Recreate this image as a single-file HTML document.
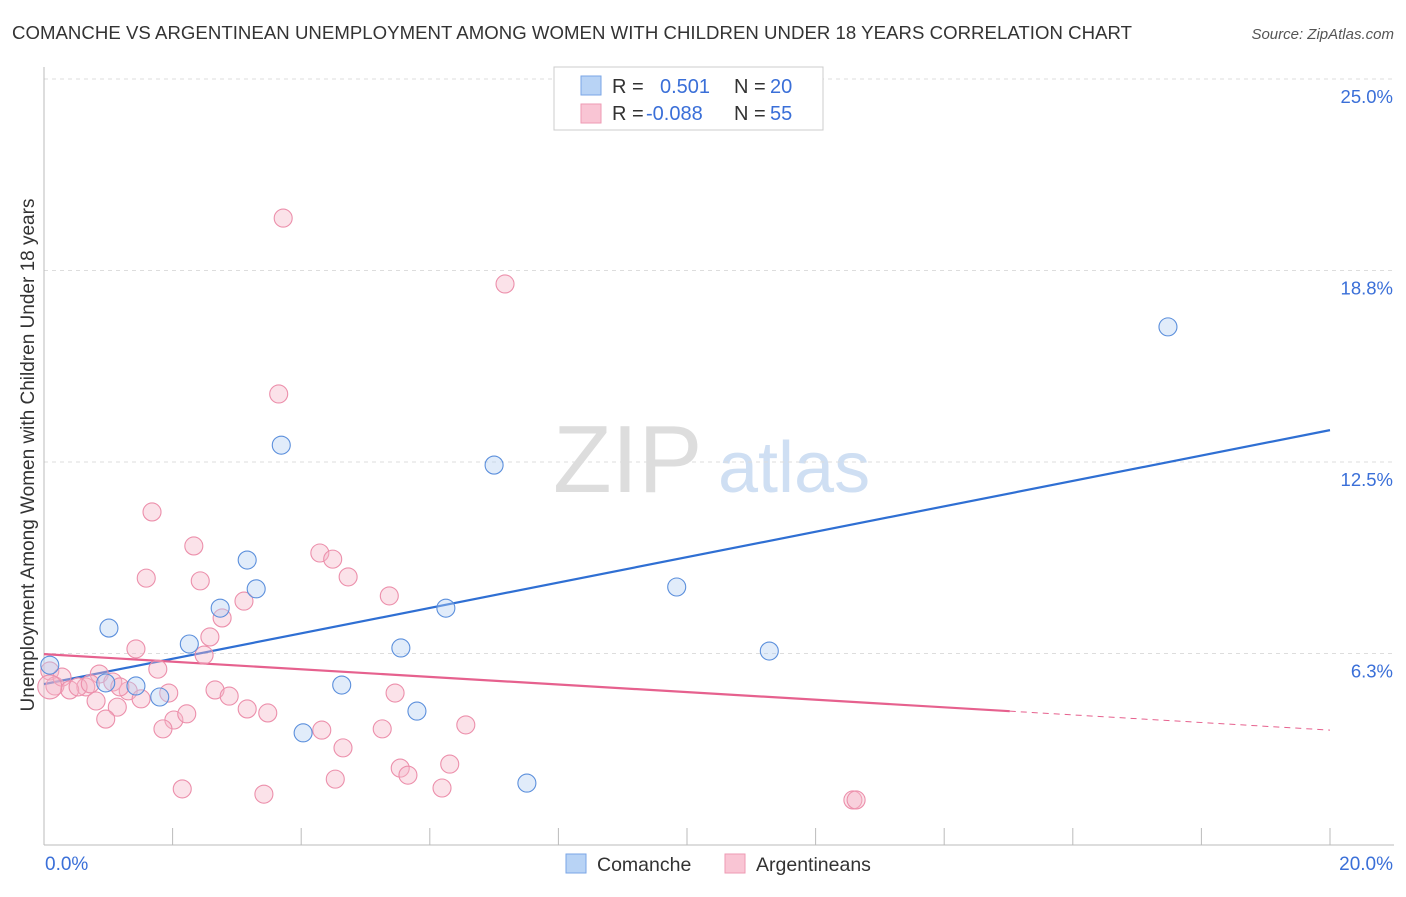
<!DOCTYPE html>
<html><head><meta charset="utf-8"><style>
body{margin:0;background:#fff;font-family:"Liberation Sans",sans-serif;}
svg text{font-family:"Liberation Sans",sans-serif;}
</style></head><body>
<svg width="1406" height="892" xmlns="http://www.w3.org/2000/svg">
<text x="12" y="39" font-size="18.6" fill="#333" textLength="1120">COMANCHE VS ARGENTINEAN UNEMPLOYMENT AMONG WOMEN WITH CHILDREN UNDER 18 YEARS CORRELATION CHART</text>
<text x="1394" y="39" font-size="15" fill="#555" font-style="italic" text-anchor="end">Source: ZipAtlas.com</text>
<g>
<text x="553" y="492" font-size="96" fill="#ddd" font-family="Liberation Serif,serif">ZIP</text>
<text x="718" y="492" font-size="72" fill="#cfdff3">atlas</text>
</g>
<g id="grid"></g>
<g id="axes"></g>
<g id="lines"></g>
<g id="points"></g>
<text transform="translate(34,455) rotate(-90)" font-size="19" fill="#333" text-anchor="middle">Unemployment Among Women with Children Under 18 years</text>
<text x="45" y="870" font-size="19" fill="#3a6fd8">0.0%</text>
<text x="1393" y="870" font-size="19" fill="#3a6fd8" text-anchor="end">20.0%</text>
<g>
<rect x="554" y="67" width="269" height="63" fill="#fff" stroke="#ccc"/>
<rect x="581" y="76" width="20" height="19" fill="#b8d3f5" stroke="#7aa6e6"/>
<rect x="581" y="104" width="20" height="19" fill="#f9c5d4" stroke="#ee9ab3"/>
<text x="612" y="93" font-size="20" fill="#333">R =</text>
<text x="660" y="93" font-size="20" fill="#3a6fd8">0.501</text>
<text x="734" y="93" font-size="20" fill="#333">N =</text>
<text x="770" y="93" font-size="20" fill="#3a6fd8">20</text>
<text x="612" y="120" font-size="20" fill="#333">R =</text>
<text x="646" y="120" font-size="20" fill="#3a6fd8">-0.088</text>
<text x="734" y="120" font-size="20" fill="#333">N =</text>
<text x="770" y="120" font-size="20" fill="#3a6fd8">55</text>
</g>
<g>
<rect x="566" y="854" width="20" height="19" fill="#b8d3f5" stroke="#7aa6e6"/>
<text x="597" y="871" font-size="19.5" fill="#333">Comanche</text>
<rect x="725" y="854" width="20" height="19" fill="#f9c5d4" stroke="#ee9ab3"/>
<text x="756" y="871" font-size="19.5" fill="#333">Argentineans</text>
</g>
</svg>
<script>
const yTicks=[6.25,12.5,18.75,25];
const yTickLabels=["6.3%","12.5%","18.8%","25.0%"];
const comancheX=[1.01,2.26,2.74,3.16,3.30,3.69,1.80,1.43,4.03,4.63,5.55,5.80,6.25,7.00,7.51,9.84,11.28,17.48,0.09,0.96];
const comancheY=[7.08,6.56,7.73,9.30,8.36,13.05,4.83,5.19,3.66,5.22,6.43,4.37,7.73,12.40,2.02,8.42,6.33,16.91,5.87,5.29];
const argX=[3.72,7.17,3.65,1.68,2.33,1.59,2.43,3.11,2.77,2.58,1.43,2.49,1.77,0.86,1.07,0.65,1.31,1.94,2.66,2.88,0.81,1.14,1.51,0.96,2.02,2.22,1.85,3.16,3.48,4.29,4.49,4.73,5.37,4.32,4.65,4.53,5.46,5.26,5.54,5.66,6.31,6.56,6.19,2.15,3.42,12.58,12.63,0.09,0.17,0.28,0.40,0.53,0.72,1.18,0.09];
const argY=[20.46,18.31,14.72,10.87,9.76,8.71,8.62,7.96,7.41,6.79,6.40,6.20,5.74,5.58,5.32,5.16,5.03,4.96,5.06,4.86,4.70,4.50,4.77,4.11,4.08,4.28,3.79,4.44,4.31,9.53,9.33,8.75,8.13,3.75,3.17,2.15,4.96,3.79,2.51,2.28,2.64,3.92,1.86,1.83,1.66,1.47,1.47,5.68,5.19,5.48,5.06,5.16,5.26,5.16,5.16];
const comancheTrend=[5.25,13.54];
const argTrend=[6.23,3.75];
const argSolidEnd=15.02;
const NS="http://www.w3.org/2000/svg";
const X0=44,X1=1330,Y0=845,YTOP=79;
const sx=v=>X0+(X1-X0)*v/20;
const sy=v=>Y0-(Y0-YTOP)*v/25;
function mk(tag,attrs,parent){const e=document.createElementNS(NS,tag);for(const k in attrs)e.setAttribute(k,attrs[k]);document.getElementById(parent).appendChild(e);return e;}
yTicks.forEach((t,i)=>{
 const l=mk('line',{x1:X0,x2:1394,y1:sy(t),y2:sy(t),stroke:'#ddd','stroke-dasharray':'4,4'},'grid');
 
 
 const tx=mk('text',{x:1393,y:sy(t)+24,'font-size':18.5,fill:'#3a6fd8','text-anchor':'end'},'grid');
 tx.textContent=yTickLabels[i];
 
 
});
const ax=mk('line',{x1:X0,x2:X0,y1:67,y2:Y0,stroke:'#bbb'},'axes');


const bx=mk('line',{x1:X0,x2:1394,y1:Y0,y2:Y0,stroke:'#bbb'},'axes');


for(let i=0;i<=10;i++){const t=mk('line',{x1:sx(i*2),x2:sx(i*2),y1:Y0,y2:Y0-17,stroke:'#bbb'},'axes');
 
 }
function pts(xs,ys,fill,stroke,name){xs.forEach((x,i)=>{const big=(x<0.2&&i===xs.length-1);
 const c=mk('circle',{cx:sx(x),cy:sy(ys[i]),r:big?12:9,fill:fill,'fill-opacity':0.4,stroke:stroke,'stroke-width':1.1},'points');
 
 });}
pts(argX,argY,'#f6b6c8','#ec8fab','argentineans-point');
pts(comancheX,comancheY,'#b3cff3','#5b8fdc','comanche-point');
const bl=mk('line',{x1:sx(0),y1:sy(comancheTrend[0]),x2:sx(20),y2:sy(comancheTrend[1]),stroke:'#2f6fd3','stroke-width':2.2},'lines');


const ym=argTrend[0]+(argTrend[1]-argTrend[0])*argSolidEnd/20;
const pl=mk('line',{x1:sx(0),y1:sy(argTrend[0]),x2:sx(argSolidEnd),y2:sy(ym),stroke:'#e6618e','stroke-width':2.2},'lines');


const pd=mk('line',{x1:sx(argSolidEnd),y1:sy(ym),x2:sx(20),y2:sy(argTrend[1]),stroke:'#e6618e','stroke-width':1,'stroke-dasharray':'6,5'},'lines');


</script>
</body></html>
